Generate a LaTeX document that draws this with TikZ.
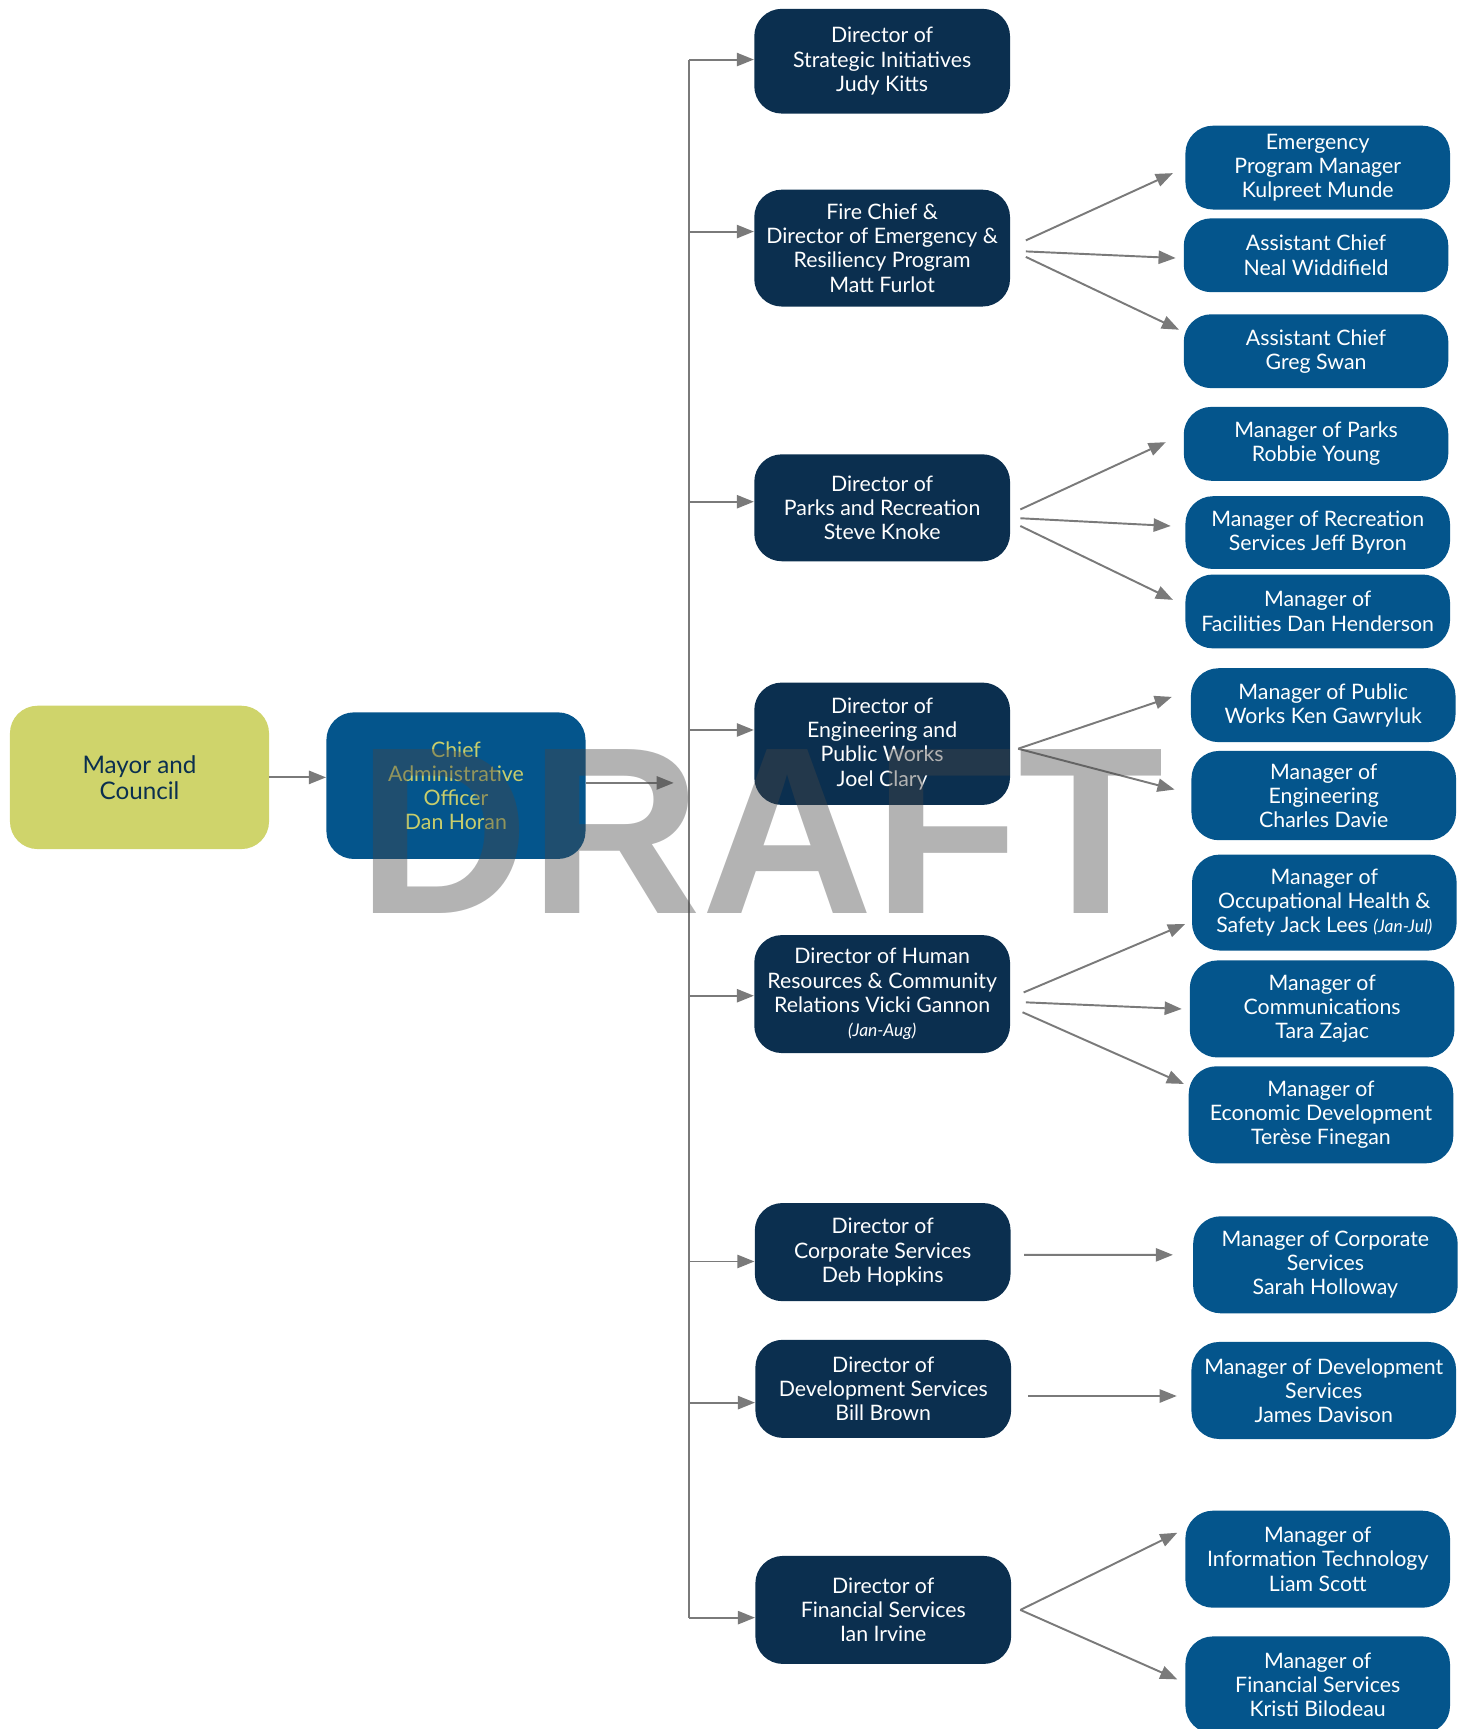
\documentclass[tikz,border=0pt]{standalone}
\usepackage{fontspec}
\setmainfont{Lato}
\newfontfamily\draftfont{Liberation Sans}
\usetikzlibrary{arrows.meta,calc}
\definecolor{director}{HTML}{0B2F4F}
\definecolor{manager}{HTML}{04558C}
\definecolor{council}{HTML}{CFD46B}
\definecolor{caotext}{HTML}{C8CD6C}
\definecolor{linkgray}{HTML}{7A7A7A}
\definecolor{watermark}{HTML}{464646}

\tikzset{
  box/.style={rounded corners=0.5cm, inner sep=0pt, align=center,
    font=\fontsize{11}{12.5}\selectfont, text=white},
  dirbox/.style={box, fill=director, minimum width=4.64cm},
  mgrbox/.style={box, fill=manager, minimum width=4.8cm},
  conn/.style={draw=linkgray, line width=1pt},
  arr/.style={conn, -{Triangle[length=3.1mm,width=2.4mm]}},
  note/.style={font=\fontsize{9}{12.5}\selectfont\itshape}
}

\begin{document}
\begin{tikzpicture}[x=0.02cm,y=-0.02cm]
  \useasboundingbox (0,0) rectangle (1332,1568);

  % Council and CAO
  \node[box, fill=council, text=director, minimum width=4.7cm, minimum height=2.6cm,
    font=\fontsize{12.5}{13.5}\selectfont] (mayor) at (126.5,705) {Mayor and\\Council};
  \node[box, fill=manager, text=caotext, minimum width=4.7cm, minimum height=2.66cm] (cao) at (413.5,712.5)
    {Chief\\Administrative\\Officer\\Dan Horan};

  % Directors
  \node[dirbox, minimum height=1.90cm] (strat) at (800,55.5) {Director of\\Strategic Initiatives\\Judy Kitts};
  \node[dirbox, minimum height=2.12cm] (fire) at (800,225) {Fire Chief \&\\Director of Emergency \&\\Resiliency Program\\Matt Furlot};
  \node[dirbox, minimum height=1.94cm] (parks) at (800,460.5) {Director of\\Parks and Recreation\\Steve Knoke};
  \node[dirbox, minimum height=2.22cm] (eng) at (800,674.5) {Director of\\Engineering and\\Public Works\\Joel Clary};
  \node[dirbox, minimum height=2.14cm] (hr) at (800,901.5) {Director of Human\\Resources \& Community\\Relations Vicki Gannon\\{\fontsize{9}{12.5}\selectfont\itshape (Jan-Aug)}};
  \node[dirbox, minimum height=1.78cm] (corp) at (800.5,1135.5) {Director of\\Corporate Services\\Deb Hopkins};
  \node[dirbox, minimum height=1.78cm] (dev) at (801,1259.5) {Director of\\Development Services\\Bill Brown};
  \node[dirbox, minimum height=1.96cm] (fin) at (801,1460) {Director of\\Financial Services\\Ian Irvine};

  % Managers
  \node[mgrbox, minimum height=1.52cm] (emp) at (1195,152) {Emergency\\Program Manager\\Kulpreet Munde};
  \node[mgrbox, minimum height=1.34cm] (ac1) at (1193.5,231.5) {Assistant Chief\\Neal Widdifield};
  \node[mgrbox, minimum height=1.34cm] (ac2) at (1193.5,318.5) {Assistant Chief\\Greg Swan};
  \node[mgrbox, minimum height=1.34cm] (mparks) at (1193.5,402.5) {Manager of Parks\\Robbie Young};
  \node[mgrbox, minimum height=1.32cm] (mrec) at (1195,483) {Manager of Recreation\\Services Jeff Byron};
  \node[mgrbox, minimum height=1.34cm] (mfac) at (1195,554.5) {Manager of\\Facilities Dan Henderson};
  \node[mgrbox, minimum height=1.34cm] (mpw) at (1200,639.5) {Manager of Public\\Works Ken Gawryluk};
  \node[mgrbox, minimum height=1.62cm] (meng) at (1200.5,721.5) {Manager of\\Engineering\\Charles Davie};
  \node[mgrbox, minimum height=1.74cm] (mohs) at (1201,818.5) {Manager of\\Occupational Health \&\\Safety Jack Lees {\fontsize{9}{12.5}\selectfont\itshape (Jan-Jul)}};
  \node[mgrbox, minimum height=1.76cm] (mcom) at (1199,915) {Manager of\\Communications\\Tara Zajac};
  \node[mgrbox, minimum height=1.76cm] (med) at (1198,1011) {Manager of\\Economic Development\\Terèse Finegan};
  \node[mgrbox, minimum height=1.76cm] (mcorp) at (1202,1147) {Manager of Corporate\\Services\\Sarah Holloway};
  \node[mgrbox, minimum height=1.76cm] (mdev) at (1200.5,1261) {Manager of Development\\Services\\James Davison};
  \node[mgrbox, minimum height=1.76cm] (mit) at (1195,1414) {Manager of\\Information Technology\\Liam Scott};
  \node[mgrbox, minimum height=1.76cm] (mfin) at (1195,1528) {Manager of\\Financial Services\\Kristi Bilodeau};

  % Council -> CAO -> trunk
  \coordinate (ttop) at (625,54);
  \coordinate (tbot) at (625,1467);
  \coordinate (caoend) at (611,710);
  \draw[arr] (mayor.east) -- (mayor.east -| cao.west);
  \draw[arr] (cao.east |- caoend) -- (caoend);
  \draw[conn] (ttop) -- (tbot);
  \foreach \n/\y in {strat/54, fire/210, parks/455, eng/662, hr/903, corp/1144, dev/1272, fin/1467}
    \draw[arr] (625,\y) -- (\n.west |- 625,\y);

  % Directors -> managers
  \draw[arr] ($(fire.east)+(14,-7)$) -- ($(emp.west)+(-11,5)$);
  \draw[arr] ($(fire.east)+(14,3)$) -- ($(ac1.west)+(-7,2.5)$);
  \draw[arr] ($(fire.east)+(14,8)$) -- ($(ac2.west)+(-4,-19.5)$);
  \draw[arr] ($(parks.east)+(9,1.5)$) -- ($(mparks.west)+(-16,-1.5)$);
  \draw[arr] ($(parks.east)+(9,9.5)$) -- ($(mrec.west)+(-13,-6)$);
  \draw[arr] ($(parks.east)+(9,16.5)$) -- ($(mfac.west)+(-11,-10.5)$);
  \draw[arr] ($(eng.east)+(7,4.5)$) -- ($(mpw.west)+(-17,-7.5)$);
  \draw[arr] ($(eng.east)+(7,4.5)$) -- ($(meng.west)+(-15,-5.5)$);
  \draw[arr] ($(hr.east)+(12,-1.5)$) -- ($(mohs.west)+(-6,19.5)$);
  \draw[arr] ($(hr.east)+(14,7.5)$) -- ($(mcom.west)+(-7,0)$);
  \draw[arr] ($(hr.east)+(11,16.5)$) -- ($(med.west)+(-4,-28)$);
  \draw[arr] ($(corp.east)+(12,2.5)$) -- ($(mcorp.west)+(-18,-9)$);
  \draw[arr] ($(dev.east)+(15,6.5)$) -- ($(mdev.west)+(-13,5)$);
  \draw[arr] ($(fin.east)+(8,0)$) -- ($(mit.west)+(-7,-24)$);
  \draw[arr] ($(fin.east)+(8,0)$) -- ($(mfin.west)+(-7,-5)$);

  % Watermark
  \node[anchor=base, inner sep=0pt, text=watermark, text opacity=0.41,
    font=\draftfont\bfseries\fontsize{123}{123}\selectfont] (draft) at (690,828) {DRAFT};
\end{tikzpicture}
\end{document}
